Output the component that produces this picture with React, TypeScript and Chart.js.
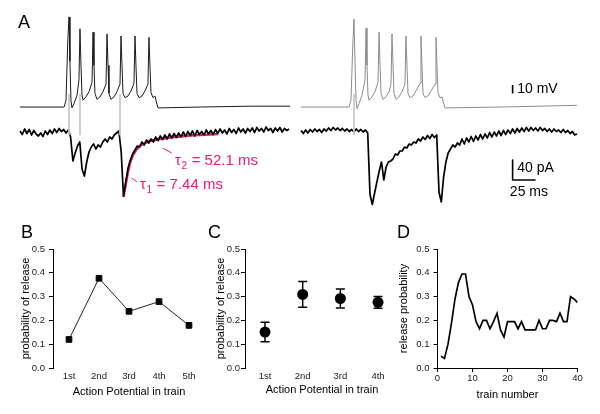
import React, { useEffect, useRef } from 'react';
import { Chart, registerables } from 'chart.js';

Chart.register(...registerables);

const FONT = '"Liberation Sans", Arial, Helvetica, sans-serif';
Chart.defaults.font.family = FONT;
Chart.defaults.color = '#000';

// ---------------- Panel A data ----------------
// Membrane voltage, left recording (time in ms, voltage in mV)
const leftVmT = [0, 48, 50, 52, 53.3, 54.3, 55.4, 56.5, 58.7, 62, 64.1, 65.2, 66.3, 67.4, 68.5, 71.7, 75, 78.3, 79.4, 80.4, 81.5, 83.7, 87, 90.2, 93.5, 94.6, 95.7, 96.7, 98.9, 102.2, 105.4, 108.7, 109.8, 110.9, 112, 114.1, 117.4, 120.7, 123.9, 125, 126.1, 127.2, 129.4, 132.6, 135.9, 139.1, 140.2, 141.3, 142.4, 144.6, 146.7, 147.8, 150, 152.2, 196, 250, 293.5];
const leftVmV = [-65, -65, -57, 14, 41, -11, -57, -66, -61, -51, -33, 27, -16, -51, -57, -53, -47, -36, 23, -16, -49, -56, -53, -47, -38, 21, -16, -49, -56, -53, -47, -38, 18.5, -17, -49, -54, -52, -46, -37, 18.5, -17, -49, -54, -52, -46, -38, 17, -17, -48, -54, -52, -57, -66, -66, -65, -64, -64];

// Membrane voltage, right recording
const rightVmT = [0, 52.2, 54.3, 56.5, 57.6, 58.7, 59.8, 60.9, 63, 66.3, 69.6, 70.7, 71.7, 72.8, 73.9, 77.2, 80.4, 83.7, 84.8, 85.9, 87, 89.1, 92.4, 95.7, 97.8, 98.9, 100, 101.1, 103.3, 106.5, 109.8, 113, 114.1, 115.2, 116.3, 118.5, 121.7, 125, 129.4, 130.4, 131.5, 132.6, 134.8, 138, 141.3, 145.7, 146.7, 147.8, 148.9, 151.1, 153.3, 154.4, 156.5, 159.8, 216.3, 300];
const rightVmV = [-65, -65, -57, 14, 38.5, -11, -57, -67, -61, -51, -33, 28, -16, -51, -57, -53, -47, -36, 23, -16, -49, -56, -53, -47, -38, 21, -16, -49, -56, -53, -47, -38, 18.5, -17, -49, -54, -52, -46, -37, 18.5, -17, -49, -54, -52, -46, -38, 17, -17, -48, -54, -53, -58, -66, -66, -65, -63];

// Postsynaptic current (pA), sampled every SAMPLE_MS
const SAMPLE_MS = 2.5;
const leftIpA = [
  2, -5, 6, -3, 5, -6, 3, -4, -8, -2,
  -9, 2, -5, 4, -3, 6, -1, 7, 1, 5,
  -2, 4, -10, -58, -42, -28, -20, -75, -88, -60,
  -40, -30, -24, -34, -26, -30, -20, -14, -20, -10,
  -14, -6, -2, 2, -40, -128, -100, -72, -56, -44,
  -36, -28, -30, -20, -26, -16, -22, -14, -20, -10,
  -17, -8, -15, -6, -14, -4, -12, -3, -11, -2,
  -10, 0, -9, 1, -7, 2, -8, 3, -5, 1,
  -6, 4, -4, 3, -5, 5, -3, 6, -2, 4,
  -4, 7, -1, 5, -3, 8, 0, 6, -2, 7,
  1, 8, -1, 9, 2, 7, 0, 10, 3, 7,
  -1, 8, 2, 9, 0, 7, 3, 6,
];
const rightIpA = [
  3, -3, 4, -2, 5, 0, 6, 1, 5, -1,
  6, 2, 8, 3, 9, 4, 8, 3, 7, 2,
  6, 1, 5, 0, 6, 1, 5, 0, 4, -2,
  -125, -145, -122, -100, -78, -60, -96, -70, -60, -58,
  -54, -44, -46, -38, -38, -30, -32, -24, -26, -20,
  -22, -14, -18, -10, -15, -7, -13, -5, -11, -6,
  -120, -140, -90, -60, -42, -34, -26, -30, -22, -26,
  -14, -24, -12, -20, -9, -19, -8, -16, -5, -14,
  -4, -12, -1, -10, 0, -8, 2, -7, 3, -5,
  4, -3, 6, -2, 7, 0, 8, 1, 9, 2,
  9, 3, 8, 2, 9, 3, 7, 1, 6, 0,
  6, 1, 4, -1, 5, -1, 3, -3, 1, -6, -4,
];

// Double-exponential fit drawn over the left current (ms, pA)
const fitT = [112.5, 115.2, 117.4, 119.6, 122.8, 126.1, 130.4, 135.9, 141.3, 152.2, 163, 173.9, 184.8, 195.7, 206.5, 215.2];
const fitI = [-130, -102, -80, -62, -46, -36, -28, -22, -18, -14, -11, -9, -7, -6, -5, -4];
const tau1Label = ' = 7.44 ms';
const tau2Label = ' = 52.1 ms';

// Stimulus artifact times (ms)
const leftArtifactT = [53.3, 65.2, 108.7];
const rightArtifactT = [57.6];

// Scale bars
const SCALE_MV = 10;
const SCALE_PA = 40;
const SCALE_MS = 25;

// ---------------- Panel B data ----------------
const bLabels = ['1st', '2nd', '3rd', '4th', '5th'];
const bValues = [0.12, 0.377, 0.238, 0.279, 0.179];

// ---------------- Panel C data ----------------
const cLabels = ['1st', '2nd', '3rd', '4th'];
const cMeans = [0.151, 0.309, 0.292, 0.276];
const cErrors = [0.041, 0.054, 0.04, 0.0245];

// ---------------- Panel D data ----------------
const dValues = [
  0.05, 0.04, 0.1, 0.19, 0.29, 0.36, 0.395, 0.395, 0.3, 0.265,
  0.195, 0.165, 0.2, 0.2, 0.165, 0.195, 0.23, 0.16, 0.13, 0.195,
  0.195, 0.195, 0.165, 0.195, 0.16, 0.16, 0.16, 0.16, 0.2, 0.165,
  0.165, 0.2, 0.2, 0.195, 0.23, 0.195, 0.195, 0.3, 0.29, 0.275,
];

const yTicksLabel = ['0.0', '0.1', '0.2', '0.3', '0.4', '0.5'];

// ---------------- helpers ----------------
const pairs = (xs: number[], ys: number[]) => xs.map((x, i) => ({ x, y: ys[i] }));
const sampled = (ys: number[]) => ys.map((y, i) => ({ x: i * SAMPLE_MS, y }));

function lineDs(data: any[], xAxisID: string, yAxisID: string, color: string, width: number) {
  return {
    data,
    xAxisID,
    yAxisID,
    borderColor: color,
    backgroundColor: color,
    borderWidth: width,
    borderJoinStyle: 'round',
    pointRadius: 0,
    fill: false,
    tension: 0,
  };
}

const letterPlugin = (text: string, x: number, y: number) => ({
  id: 'letter' + text,
  afterDraw(chart: any) {
    const ctx = chart.ctx;
    ctx.save();
    ctx.fillStyle = '#000';
    ctx.font = `18px ${FONT}`;
    ctx.textBaseline = 'alphabetic';
    ctx.textAlign = 'left';
    ctx.fillText(text, x, y);
    ctx.restore();
  },
});

function drawTau(ctx: CanvasRenderingContext2D, sub: string, rest: string, x: number, y: number) {
  ctx.font = `15px ${FONT}`;
  ctx.fillText('τ', x, y);
  const w1 = ctx.measureText('τ').width;
  ctx.font = `10px ${FONT}`;
  ctx.fillText(sub, x + w1 + 0.5, y + 4);
  const w2 = ctx.measureText(sub).width;
  ctx.font = `15px ${FONT}`;
  ctx.fillText(rest, x + w1 + w2 + 1, y);
}

const panelATextPlugin = {
  id: 'panelAText',
  afterDatasetsDraw(chart: any) {
    const { ctx, scales } = chart;
    const { xL, xR, yV, yI } = scales;
    ctx.save();
    ctx.fillStyle = '#000';
    ctx.textAlign = 'left';
    ctx.textBaseline = 'middle';
    ctx.font = `14px ${FONT}`;
    ctx.fillText(`${SCALE_MV} mV`, xR.getPixelForValue(235), yV.getPixelForValue(-44));
    ctx.fillText(`${SCALE_PA} pA`, xR.getPixelForValue(235), yI.getPixelForValue(-72));
    ctx.fillText(`${SCALE_MS} ms`, xR.getPixelForValue(227), yI.getPixelForValue(-120));
    ctx.fillStyle = '#ec1c74';
    ctx.textBaseline = 'alphabetic';
    drawTau(ctx, '2', tau2Label, xL.getPixelForValue(168.5), yI.getPixelForValue(-66));
    drawTau(ctx, '1', tau1Label, xL.getPixelForValue(130.4), yI.getPixelForValue(-114));
    ctx.restore();
  },
};

const FIT_COLOR = '#ec1c74';

function makePanelA(): any {
  const datasets: any[] = [];
  leftArtifactT.forEach((t) =>
    datasets.push(lineDs([{ x: t, y: -50 }, { x: t, y: -98 }], 'xL', 'yV', '#c8c8c8', 1))
  );
  rightArtifactT.forEach((t) =>
    datasets.push(lineDs([{ x: t, y: -50 }, { x: t, y: -98 }], 'xR', 'yV', '#c8c8c8', 1))
  );
  datasets.push(lineDs(pairs(leftVmT, leftVmV), 'xL', 'yV', '#1a1a1a', 1));
  datasets.push(lineDs(pairs(rightVmT, rightVmV), 'xR', 'yV', '#8c8c8c', 1));
  datasets.push(lineDs(sampled(leftIpA), 'xL', 'yI', '#000', 1.7));
  datasets.push(lineDs(sampled(rightIpA), 'xR', 'yI', '#000', 1.7));
  datasets.push(lineDs(pairs(fitT, fitI), 'xL', 'yI', FIT_COLOR, 2.5));
  // leader ticks next to the tau labels
  datasets.push(lineDs([{ x: 155, y: -32 }, { x: 165, y: -42 }], 'xL', 'yI', FIT_COLOR, 1));
  datasets.push(lineDs([{ x: 121.7, y: -92 }, { x: 127.2, y: -100 }], 'xL', 'yI', FIT_COLOR, 1));
  // scale bars
  datasets.push(lineDs([{ x: 230, y: -49 }, { x: 230, y: -49 + SCALE_MV }], 'xR', 'yV', '#000', 1.6));
  datasets.push(
    lineDs(
      [{ x: 230, y: -96 + SCALE_PA }, { x: 230, y: -96 }, { x: 230 + SCALE_MS, y: -96 }],
      'xR', 'yI', '#000', 1.6
    )
  );
  return {
    type: 'line',
    data: { datasets },
    options: {
      animation: false,
      responsive: false,
      devicePixelRatio: 1,
      events: [],
      layout: { padding: 0 },
      plugins: { legend: { display: false }, tooltip: { enabled: false } },
      scales: {
        xL: { type: 'linear', display: false, min: -21.74, max: 630.5 },
        xR: { type: 'linear', display: false, min: -327.2, max: 325.0 },
        yV: { type: 'linear', display: false, min: -192, max: 60.9 },
        yI: { type: 'linear', display: false, min: -166, max: 264 },
      },
    },
    plugins: [panelATextPlugin, letterPlugin('A', 18, 28)],
  };
}

function yAxis(width: number, title: string, titlePad: number, labelPad: number) {
  return {
    type: 'linear',
    min: 0,
    max: 0.5,
    afterFit: (s: any) => { s.width = width; },
    ticks: {
      stepSize: 0.1,
      callback: (v: number) => yTicksLabel[Math.round(v * 10)] ?? '',
      padding: labelPad,
      font: { size: 9.5 },
      color: '#222',
    },
    grid: { display: true, drawOnChartArea: false, drawTicks: true, tickLength: 4, color: '#000', lineWidth: 1 },
    border: { display: true, color: '#000', width: 1 },
    title: { display: true, text: title, font: { size: 11 }, color: '#000', padding: { top: titlePad, bottom: 0 } },
  };
}

function catXAxis(labels: string[], min: number, max: number, labelPad: number, titleBottom: number) {
  return {
    type: 'linear',
    min,
    max,
    afterFit: (s: any) => { s.height = 46; },
    afterBuildTicks: (s: any) => { s.ticks = labels.map((_, i) => ({ value: i + 1 })); },
    ticks: {
      callback: (v: number) => labels[Math.round(v) - 1] ?? '',
      padding: labelPad,
      font: { size: 9.5 },
      color: '#222',
      autoSkip: false,
      maxRotation: 0,
    },
    grid: { display: false, drawTicks: false },
    border: { display: false },
    title: { display: true, text: 'Action Potential in train', font: { size: 11 }, color: '#000', padding: { top: 0, bottom: titleBottom } },
  };
}

const baseOptions = {
  animation: false,
  responsive: false,
  devicePixelRatio: 1,
  events: [],
  plugins: { legend: { display: false }, tooltip: { enabled: false } },
};

function makePanelB(): any {
  return {
    type: 'line',
    data: {
      datasets: [{
        data: bValues.map((v, i) => ({ x: i + 1, y: v })),
        borderColor: '#222',
        borderWidth: 1,
        pointStyle: 'rect',
        pointRadius: 4,
        pointBackgroundColor: '#000',
        pointBorderColor: '#000',
        pointBorderWidth: 1,
        tension: 0,
      }],
    },
    options: {
      ...baseOptions,
      layout: { padding: { left: 0, top: 34, right: 8, bottom: 0 } },
      scales: {
        x: catXAxis(bLabels, 0.4667, 5.533, 3, 15.7),
        y: yAxis(53, 'probability of release', 19.4, 4),
      },
    },
    plugins: [letterPlugin('B', 21, 23)],
  };
}

const errorBarPlugin = {
  id: 'errorBars',
  beforeDatasetsDraw(chart: any) {
    const { ctx, scales: { x, y } } = chart;
    ctx.save();
    ctx.strokeStyle = '#000';
    ctx.lineWidth = 1.5;
    cMeans.forEach((m, i) => {
      const px = x.getPixelForValue(i + 1);
      const top = y.getPixelForValue(m + cErrors[i]);
      const bot = y.getPixelForValue(m - cErrors[i]);
      ctx.beginPath();
      ctx.moveTo(px, top); ctx.lineTo(px, bot);
      ctx.moveTo(px - 4.5, top); ctx.lineTo(px + 4.5, top);
      ctx.moveTo(px - 4.5, bot); ctx.lineTo(px + 4.5, bot);
      ctx.stroke();
    });
    ctx.restore();
  },
};

function makePanelC(): any {
  return {
    type: 'scatter',
    data: {
      datasets: [{
        data: cMeans.map((v, i) => ({ x: i + 1, y: v })),
        pointStyle: 'circle',
        pointRadius: 5.5,
        pointBackgroundColor: '#000',
        pointBorderColor: '#000',
        pointBorderWidth: 0,
        showLine: false,
      }],
    },
    options: {
      ...baseOptions,
      layout: { padding: { left: 0, top: 34, right: 6, bottom: 0 } },
      scales: {
        x: catXAxis(cLabels, 0.469, 4.557, 2.3, 17.4),
        y: yAxis(45, 'probability of release', 14.4, 1),
      },
    },
    plugins: [errorBarPlugin, letterPlugin('C', 8, 23)],
  };
}

function makePanelD(): any {
  return {
    type: 'line',
    data: {
      datasets: [{
        data: dValues.map((v, i) => ({ x: i + 1, y: v })),
        borderColor: '#000',
        borderWidth: 1.7,
        pointRadius: 0,
        tension: 0,
      }],
    },
    options: {
      ...baseOptions,
      layout: { padding: { left: 0, top: 34, right: 22.5, bottom: 0 } },
      scales: {
        x: {
          type: 'linear',
          min: 0,
          max: 40,
          afterFit: (s: any) => { s.height = 46; },
          ticks: { stepSize: 10, padding: 1, font: { size: 9.5 }, color: '#222', maxRotation: 0 },
          grid: { display: true, drawOnChartArea: false, drawTicks: true, tickLength: 4, color: '#000' },
          border: { display: true, color: '#000', width: 1 },
          title: { display: true, text: 'train number', font: { size: 11 }, color: '#000', padding: { top: 0, bottom: 12.4 } },
        },
        y: yAxis(42.5, 'release probability', 2.4, 4),
      },
    },
    plugins: [letterPlugin('D', 2, 23)],
  };
}

function ChartCanvas(props: { make: () => any; left: number; top: number; width: number; height: number }) {
  const ref = useRef<HTMLCanvasElement>(null);
  useEffect(() => {
    const chart = new Chart(ref.current as HTMLCanvasElement, props.make());
    return () => chart.destroy();
  }, []);
  return (
    <canvas
      ref={ref}
      width={props.width}
      height={props.height}
      style={{ position: 'absolute', left: props.left, top: props.top, width: props.width, height: props.height }}
    />
  );
}

export default function App() {
  return (
    <div style={{ position: 'fixed', left: 0, top: 0, width: 600, height: 414, background: '#fff', overflow: 'hidden' }}>
      <ChartCanvas make={makePanelA} left={0} top={0} width={600} height={215} />
      <ChartCanvas make={makePanelB} left={0} top={215} width={213} height={199} />
      <ChartCanvas make={makePanelC} left={200} top={215} width={205} height={199} />
      <ChartCanvas make={makePanelD} left={395} top={215} width={205} height={199} />
    </div>
  );
}
